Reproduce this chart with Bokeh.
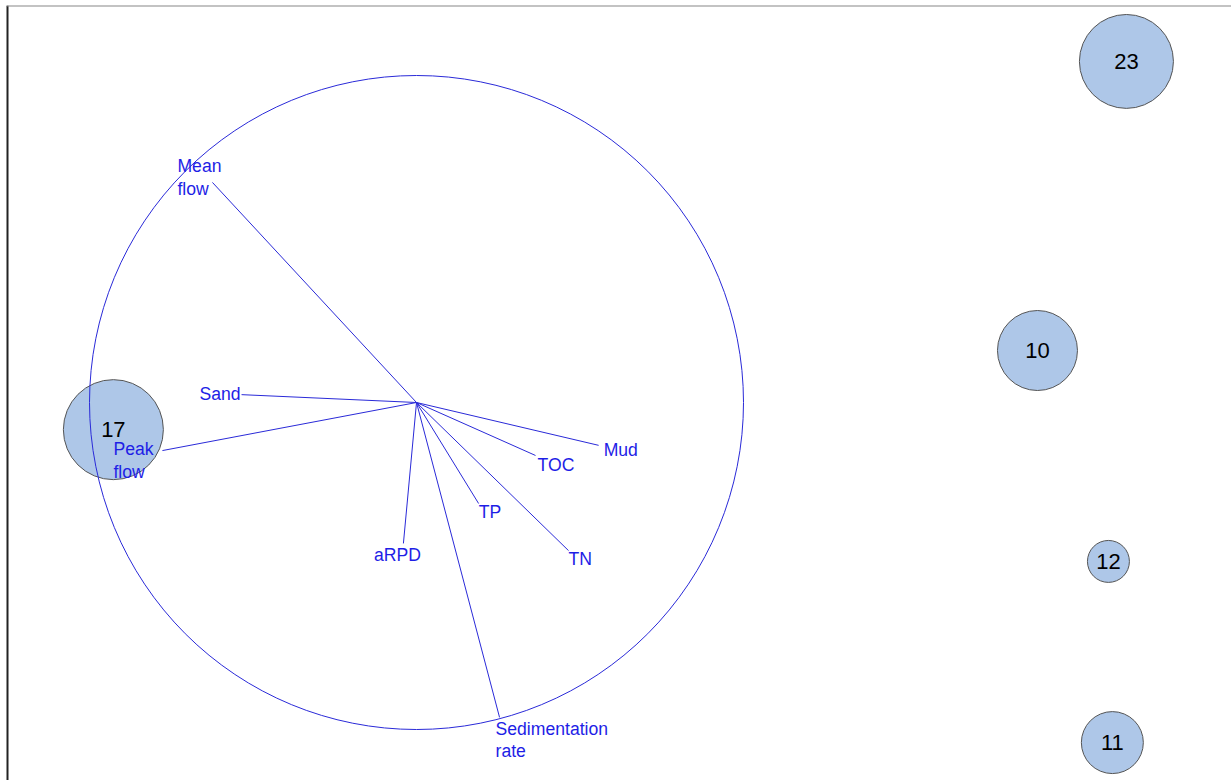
from bokeh.plotting import figure
from bokeh.models import Range1d, Span, ColumnDataSource
from bokeh.core.properties import value
from bokeh.embed import file_html
from bokeh.resources import INLINE
import numpy as np

# ---- data (ordination scores; correlation circle has radius 1) ----
site_labels = ["23", "10", "12", "11", "17"]
site_x = [2.171, 1.899, 2.116, 2.128, -0.927]
site_y = [1.043, 0.159, -0.486, -1.040, -0.083]
site_size = [22.1, 16.0, 4.4, 9.6, 25.0]

var_labels = ["Mean\nflow", "Sand", "Peak\nflow", "Mud", "TOC", "TP", "TN", "aRPD", "Sedimentation\nrate"]
var_x = [-0.624, -0.535, -0.777, 0.557, 0.364, 0.190, 0.465, -0.040, 0.254]
var_y = [0.673, 0.024, -0.147, -0.131, -0.162, -0.309, -0.453, -0.431, -0.963]

# ---- label placement styles (screen px offsets from arrow tip) ----
lab_align = ["left", "right", "left", "left", "left", "left", "left", "center", "left"]
lab_dx = [-35, -1, -49, 5, 2, 0, 0, -6, -4]
lab_dy = [-5, -1, 10, 5, 10, 8, 8, 12, 22.5]

# ---- layout ----
W, H = 1231, 780
PX = 327.0            # pixels per unit
CX, CY = 416, 402     # pixel position of origin
BL, BT = 6, 5         # left / top border

x0 = (BL - CX) / PX
x1 = (W - CX) / PX
y1 = (CY - BT) / PX
y0 = (CY - H) / PX

p = figure(width=W, height=H, output_backend="svg", toolbar_location=None,
           x_range=Range1d(x0, x1), y_range=Range1d(y0, y1),
           min_border_left=BL, min_border_top=BT, min_border_right=0, min_border_bottom=0)
p.axis.visible = False
p.grid.visible = False
p.outline_line_color = None
p.background_fill_color = "white"
p.border_fill_color = "white"

LINE = "#2a2ad8"
TEXT = "#1e1ee6"
FONT = value("Liberation Sans")

# sites
src = ColumnDataSource(dict(x=site_x, y=site_y, lab=site_labels,
                            r=[10.0 * np.sqrt(s) for s in site_size]))
p.circle(x="x", y="y", radius="r", radius_units="screen", source=src,
         fill_color="#aec7e8", line_color="#555555", line_width=1)
p.text(x="x", y="y", text="lab", source=src, text_font=FONT, text_font_size="22px",
       text_color="black", text_align="center", text_baseline="middle")

# correlation circle
p.ellipse(x=[0], y=[0], width=[2], height=[2], fill_color=None, line_color=LINE, line_width=1)

# vectors
p.segment(x0=[0] * len(var_x), y0=[0] * len(var_y), x1=var_x, y1=var_y,
          line_color=LINE, line_width=1)

for i, lab in enumerate(var_labels):
    p.text(x=[var_x[i]], y=[var_y[i]], text=[lab], x_offset=lab_dx[i], y_offset=lab_dy[i],
           text_font=FONT, text_font_size="17.6px", text_color=TEXT,
           text_align=lab_align[i], text_baseline="middle", text_line_height=1.13)

# partial frame (left and top edges)
p.add_layout(Span(location=x0, dimension="height", line_color="#222222", line_width=4))
p.add_layout(Span(location=y1, dimension="width", line_color="#888888", line_width=2))

open("out.html", "w").write(file_html(p, INLINE))
